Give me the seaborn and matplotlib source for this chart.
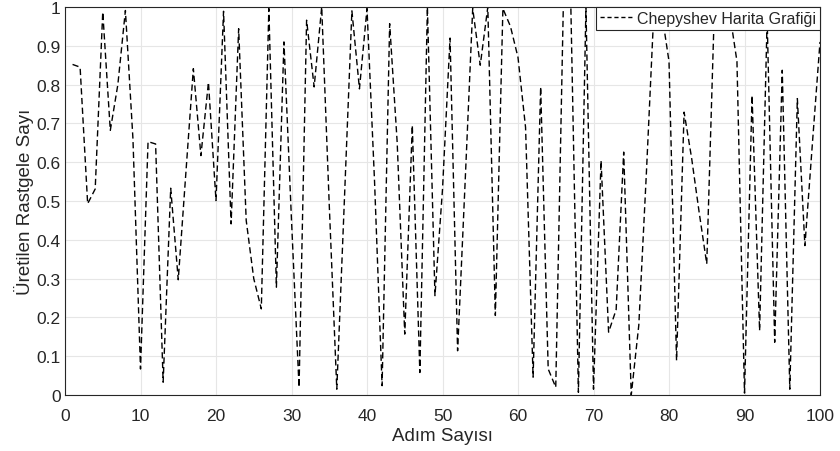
import matplotlib
matplotlib.use("Agg")
import matplotlib.pyplot as plt
import seaborn as sns
import pandas as pd
import numpy as np

# Step numbers and the generated values
steps = list(range(1, 101))
values = [
    0.852, 0.845, 0.493, 0.531, 0.987, 0.682, 0.80, 0.991, 0.66, 0.067,
    0.653, 0.647, 0.033, 0.533, 0.297, 0.57, 0.841, 0.617, 0.806, 0.501,
    0.989, 0.441, 0.944, 0.45, 0.30, 0.222, 0.996, 0.278, 0.91, 0.45,
    0.02, 0.966, 0.794, 1.0, 0.49, 0.015, 0.5, 0.99, 0.789, 0.996,
    0.55, 0.024, 0.957, 0.65, 0.157, 0.695, 0.058, 1.0, 0.256, 0.53,
    0.92, 0.114, 0.55, 0.996, 0.85, 1.0, 0.205, 0.996, 0.95, 0.87,
    0.69, 0.046, 0.794, 0.067, 0.02, 1.0, 1.0, 0.007, 1.0, 0.015,
    0.604, 0.162, 0.22, 0.626, 0.0, 0.18, 0.57, 0.99, 0.99, 0.86,
    0.089, 0.729, 0.61, 0.47, 0.338, 0.99, 1.0, 0.99, 0.86, 0.005,
    0.772, 0.166, 0.97, 0.136, 0.837, 0.015, 0.764, 0.385, 0.65, 0.91,
]
series_name = "Chepyshev Harita Grafiği"
x_ticks = list(range(0, 101, 10))
y_ticks = [round(v, 1) for v in np.arange(0, 1.01, 0.1)]
y_tick_labels = ["0", "0.1", "0.2", "0.3", "0.4", "0.5", "0.6", "0.7", "0.8", "0.9", "1"]

df = pd.DataFrame({"Adım": steps, "Değer": values, "Seri": series_name})

sns.set_style("whitegrid")
# narrow sans to mimic the MATLAB look
plt.rcParams["font.family"] = ["Liberation Sans Narrow", "Liberation Sans", "DejaVu Sans"]

fig = plt.figure(figsize=(8.4, 4.52), dpi=100)
ax = fig.add_axes([65 / 840, 1 - 396 / 452, 755 / 840, 388 / 452])

sns.lineplot(data=df, x="Adım", y="Değer", hue="Seri", palette=["black"],
             linewidth=1.0, ax=ax)
ax.lines[0].set_linestyle((0, (4.5, 2.5)))

ax.set_xlim(0, 100)
ax.set_ylim(0, 1)
ax.set_xticks(x_ticks)
ax.set_yticks(y_ticks)
ax.set_yticklabels(y_tick_labels)
ax.tick_params(axis="both", direction="in", length=4, color="#262626",
               labelsize=12.5, labelcolor="#262626")
ax.tick_params(axis="x", pad=9.5)
ax.tick_params(axis="y", pad=3)
ax.set_xlabel("Adım Sayısı", fontsize=13.5, color="#262626", labelpad=3)
ax.set_ylabel("Üretilen Rastgele Sayı", fontsize=13.5, color="#262626", labelpad=2)
ax.grid(True, color="#e6e6e6", linewidth=0.8)
for sp in ax.spines.values():
    sp.set_color("#262626")
    sp.set_linewidth(0.8)
    sp.set_visible(True)

leg = ax.legend(loc="upper right", fontsize=11.5, frameon=True, fancybox=False,
                borderaxespad=0, handlelength=2.0, handletextpad=0.3,
                borderpad=0.25, framealpha=1)
leg.get_frame().set_edgecolor("#262626")
leg.get_frame().set_linewidth(0.8)
for h in leg.get_lines():
    h.set_linestyle((0, (3, 2)))

fig.savefig("out.png", dpi=100)
